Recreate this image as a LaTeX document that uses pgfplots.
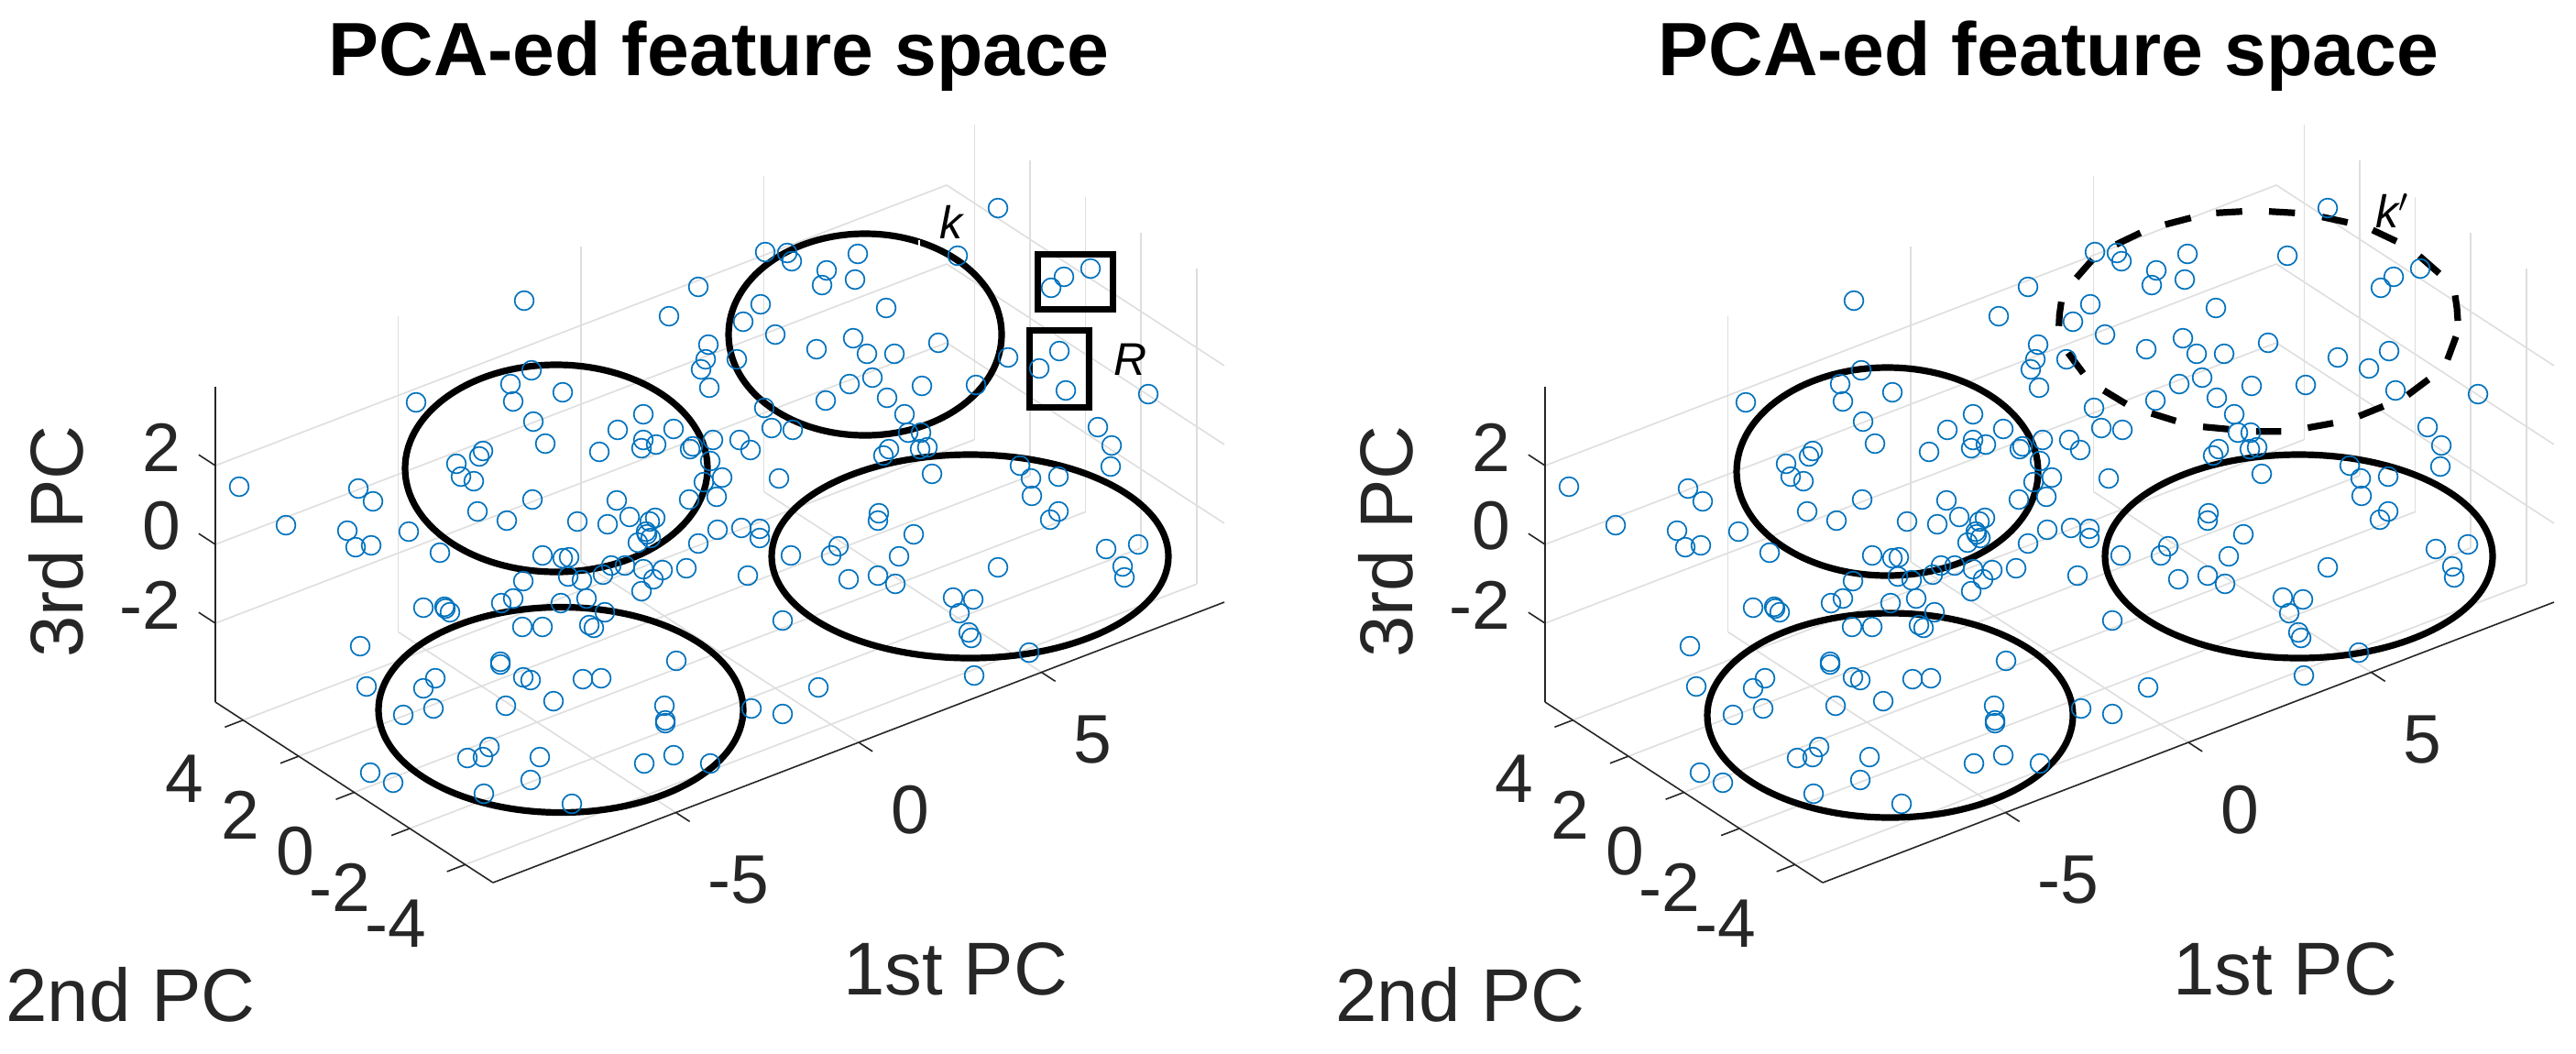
\documentclass[border=0pt]{standalone}
\usepackage{pgfplots}
\usepackage{pgfplotstable}
\usepackage{fontspec}
\setmainfont{Liberation Sans}
\pgfplotsset{compat=1.18}
\definecolor{matblue}{HTML}{0072BD}
\definecolor{matdark}{HTML}{262626}

% screen positions of the points inside one panel, 1 unit = 0.25pt
\pgfplotstableread[row sep=\\]{
x y\\
1089 227\\ 835 275\\ 859 276\\ 864 285\\ 936 277\\ 1045 279\\ 1190 293\\ 1161 302\\ 1147 314\\
902 295\\ 897 311\\ 933 305\\ 762 313\\ 572 328\\ 730 345\\ 830 332\\ 967 336\\ 811 351\\
846 365\\ 773 376\\ 770 392\\ 765 403\\ 804 392\\ 891 381\\ 931 369\\ 946 386\\ 976 386\\
1024 374\\ 1100 390\\ 1156 383\\ 1134 402\\ 1163 426\\ 1253 430\\ 580 404\\ 557 419\\ 614 428\\
560 438\\ 454 439\\ 774 423\\ 952 412\\ 927 419\\ 1006 421\\ 1065 420\\ 968 434\\ 901 437\\
834 445\\ 987 452\\ 702 452\\ 582 460\\ 674 469\\ 735 468\\ 842 467\\ 865 469\\ 991 472\\
1005 472\\ 1198 466\\ 1213 486\\ 1212 509\\
595 484\\ 527 492\\ 523 498\\ 498 506\\ 503 520\\ 517 525\\ 654 493\\ 700 489\\ 702 480\\
716 485\\ 753 490\\ 756 487\\ 778 480\\ 807 480\\ 819 491\\ 775 503\\ 850 522\\ 788 521\\
768 526\\ 782 542\\ 752 545\\ 581 545\\ 673 546\\ 521 558\\ 553 568\\ 630 569\\ 663 572\\
687 564\\ 715 565\\ 709 569\\ 705 580\\ 706 583\\ 710 587\\ 696 592\\ 446 580\\ 407 547\\
405 595\\ 391 533\\ 388 597\\ 480 603\\ 592 606\\ 614 609\\ 621 608\\ 667 617\\ 682 617\\
658 627\\ 702 621\\ 723 622\\ 749 620\\ 713 632\\ 700 645\\ 571 634\\ 620 629\\ 635 633\\
640 653\\ 612 658\\ 560 653\\ 547 658\\ 462 663\\ 485 662\\ 486 664\\ 491 668\\ 660 668\\
570 684\\ 592 684\\ 643 682\\ 648 685\\ 783 578\\ 762 593\\ 809 576\\ 829 577\\ 829 587\\
863 606\\ 816 628\\ 854 677\\ 393 705\\
970 490\\ 964 497\\ 1004 490\\ 1012 488\\ 1017 517\\ 1113 508\\ 1125 522\\ 1155 520\\
1126 541\\ 1155 558\\ 1146 567\\ 959 560\\ 958 568\\ 997 583\\ 915 596\\ 907 606\\ 981 607\\
926 632\\ 958 628\\ 977 637\\ 1089 619\\ 1207 599\\ 1242 594\\ 1225 618\\ 1227 630\\
1040 652\\ 1062 654\\ 1047 669\\ 1057 690\\ 1060 696\\ 261 531\\ 312 573\\ 379 579\\
1123 712\\ 1063 737\\ 893 750\\ 738 721\\ 546 722\\ 546 725\\ 571 739\\ 579 742\\ 636 741\\
656 740\\ 475 740\\ 462 751\\ 400 749\\ 473 773\\ 440 780\\ 552 770\\ 604 765\\ 725 770\\
726 786\\ 726 789\\ 820 773\\ 854 779\\ 534 815\\ 527 826\\ 510 827\\ 589 826\\ 735 824\\
703 833\\ 775 833\\ 404 843\\ 429 854\\ 579 851\\ 528 866\\ 624 877\\
}\pts

\pgfplotsset{
  box3d/.style={
    anchor=origin,
    x={(9.975pt,3.825pt)},y={(-7.575pt,4.925pt)},z={(0pt,10.75pt)},
    xmin=-10,xmax=10,ymin=-5,ymax=5,zmin=-4,zmax=4,
    xtick={-5,0,5},ytick={-4,-2,0,2,4},ztick={-2,0,2},
    xticklabels={\hspace*{6pt}-5,0,5},
    yticklabels={-4\hspace*{6pt},-2\hspace*{6pt},0,2,4},
    zticklabels={-2,0,2},
    grid=major,major grid style={draw=black!13,line width=0.4pt},
    axis line style={draw=none},major tick length=0pt,
    clip=false,
    ticklabel style={font=\fontsize{18.75}{20}\selectfont,text=matdark},
    xticklabel style={anchor=center,xshift=14pt,yshift=-18.5pt},
    yticklabel style={anchor=center,xshift=-16pt,yshift=-16pt},
    zticklabel style={anchor=east,xshift=-6pt,yshift=5pt},
    label style={font=\fontsize{20.4}{22}\selectfont,text=matdark,anchor=center},
    xlabel={1st PC},ylabel={2nd PC},zlabel={3rd PC},
    xlabel style={at={(axis cs:-4.34,-14.2,-4)},rotate=0},
    ylabel style={at={(axis cs:-19.2,-4.06,-4)},rotate=0},
    zlabel style={at={(axis cs:-10,10.74,-2.56)},rotate=0},
  },
  over2d/.style={
    anchor=south west,scale only axis,width=340pt,height=287.25pt,
    xmin=0,xmax=1360,ymin=0,ymax=1149,y dir=reverse,
    hide axis,clip=false,
    every axis title shift=0pt,
    title={PCA-ed feature space},
    title style={font=\fontsize{20.6}{22}\bfseries,at={(axis description cs:0.5768,0.9286)},anchor=base},
  },
}
\newcommand{\frameplots}{
  \addplot3[matdark,line width=0.4pt] coordinates {(-10,-5,-4) (10,-5,-4)};
  \addplot3[matdark,line width=0.4pt] coordinates {(-10,5,-4) (-10,-5,-4)};
  \addplot3[matdark,line width=0.4pt] coordinates {(-10,5,-4) (-10,5,4)};
  \addplot3[matdark,line width=0.4pt,unbounded coords=jump] coordinates {
    (-5,-5,-4) (-5,-5.5,-4) (nan,nan,nan) (0,-5,-4) (0,-5.5,-4) (nan,nan,nan) (5,-5,-4) (5,-5.5,-4) (nan,nan,nan)
    (-10,4,-4) (-10.5,4,-4) (nan,nan,nan) (-10,2,-4) (-10.5,2,-4) (nan,nan,nan) (-10,0,-4) (-10.5,0,-4) (nan,nan,nan)
    (-10,-2,-4) (-10.5,-2,-4) (nan,nan,nan) (-10,-4,-4) (-10.5,-4,-4) (nan,nan,nan)
    (-10,5,2) (-10,5.6,2) (nan,nan,nan) (-10,5,0) (-10,5.6,0) (nan,nan,nan) (-10,5,-2) (-10,5.6,-2)
  };
}
\newcommand{\points}{
  \addplot[only marks,mark=o,mark size=2.6pt,mark options={draw=matblue,line width=0.42pt}] table {\pts};
}

\begin{document}
\begin{tikzpicture}
\useasboundingbox (0,0) rectangle (702.75pt,287.25pt);
% left panel
\begin{axis}[box3d,at={(196.375pt,152.375pt)}]
  \frameplots
\end{axis}
\begin{axis}[over2d,at={(0pt,0pt)}]
  \points
  \draw[line width=1.8pt] (axis cs:944,365) ellipse [x radius=149,y radius=110];
  \draw[line width=1.8pt] (axis cs:607,511) ellipse [x radius=165,y radius=113];
  \draw[line width=1.8pt] (axis cs:1058.5,607) ellipse [x radius=216.5,y radius=111];
  \draw[line width=1.8pt] (axis cs:612,774.5) ellipse [x radius=199,y radius=112];
  \draw[line width=1.75pt] (axis cs:1132,277.5) rectangle (axis cs:1214,337.5);
  \draw[line width=1.75pt] (axis cs:1123.5,360.5) rectangle (axis cs:1188.5,444.5);
  \draw[white,line width=0.4pt] (axis cs:1003,262) -- (axis cs:1003,274);
  \node[font=\fontsize{12.5}{14}\selectfont\itshape] at (axis cs:1037.5,242) {k};
  \node[font=\fontsize{12.5}{14}\selectfont\itshape] at (axis cs:1234,392) {R};
\end{axis}
% right panel
\begin{axis}[box3d,at={(559.125pt,152.375pt)}]
  \frameplots
\end{axis}
\begin{axis}[over2d,at={(362.75pt,0pt)}]
  \points
  % dashes of the k' ellipse, read one by one
  \addplot[black,line width=1.8pt,unbounded coords=jump] coordinates {
    (1228,322.3) (1230,336) (1231,350) (nan,nan) (1229,367.3) (1219.7,392.3) (nan,nan)
    (1199,414) (1176.3,431) (nan,nan) (1149.7,443.3) (1123.3,454) (nan,nan)
    (1095,461.7) (1067.3,466.7) (nan,nan) (1038.3,470.7) (1010.7,470.7) (nan,nan)
    (981.3,468.3) (953,465.7) (nan,nan) (923.3,459.3) (896.7,451) (nan,nan)
    (869,440.7) (844.7,426) (nan,nan) (822.3,407.3) (805.7,385) (nan,nan)
    (795.7,355.7) (796.3,343.3) (798.3,329.3) (nan,nan) (814.7,303.3) (832.3,283.3) (nan,nan)
    (858.3,266.7) (884.7,254) (nan,nan) (911.7,245) (939.7,237.7) (nan,nan)
    (967.3,232.3) (995.7,230.7) (nan,nan) (1025,230.7) (1053.3,232.3) (nan,nan)
    (1083,236.7) (1110.7,242.7) (nan,nan) (1138,251) (1164,263.3) (nan,nan)
    (1189,279.3) (1210.7,298.3)
  };
  \draw[line width=1.8pt] (axis cs:608.5,514.5) ellipse [x radius=164.5,y radius=113.5];
  \draw[line width=1.8pt] (axis cs:1057.5,607) ellipse [x radius=211.5,y radius=111];
  \draw[line width=1.8pt] (axis cs:611.5,780.5) ellipse [x radius=199.5,y radius=111.5];
  \node[font=\fontsize{12.5}{14}\selectfont\itshape] at (axis cs:1160,230) {k$'$};
\end{axis}
\end{tikzpicture}
\end{document}
